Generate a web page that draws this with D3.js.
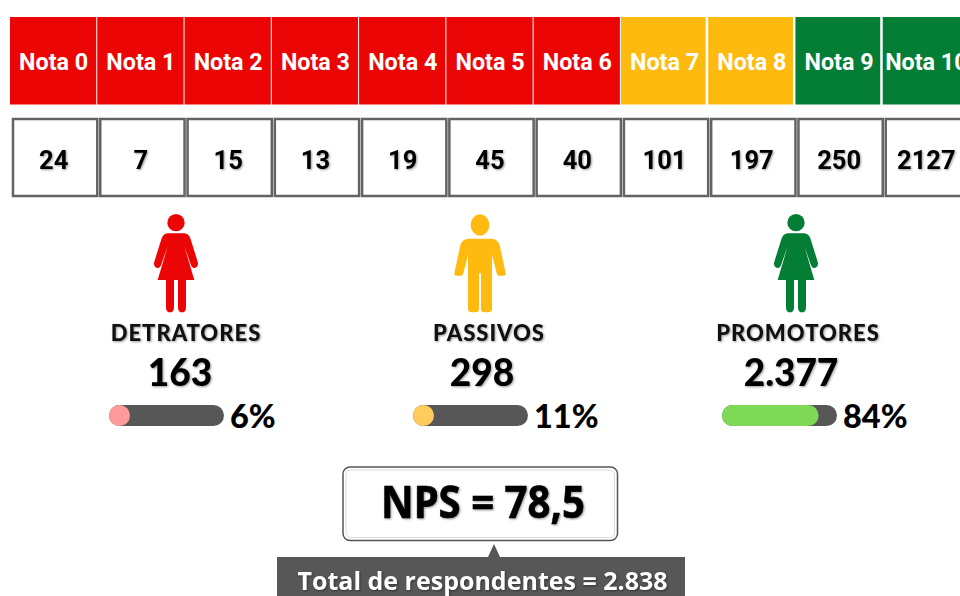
<!DOCTYPE html>
<html>
<head>
<meta charset="utf-8">
<script src="https://cdn.jsdelivr.net/npm/d3@7"></script>
<style>
  html, body { margin: 0; padding: 0; background: #fff; overflow: hidden; }
  svg { display: block; }
  .soft { filter: drop-shadow(1px 1px 1px rgba(0,0,0,.4)); }
</style>
</head>
<body>
<svg id="chart" width="960" height="596"></svg>
<script>
// data
const notas = ["Nota 0", "Nota 1", "Nota 2", "Nota 3", "Nota 4", "Nota 5", "Nota 6", "Nota 7", "Nota 8", "Nota 9", "Nota 10"];
const respostas = [24, 7, 15, 13, 19, 45, 40, 101, 197, 250, 2127];
const notaGrupo = ["d", "d", "d", "d", "d", "d", "d", "p", "p", "g", "g"];

const grupos = ["d", "p", "g"];
const grupoNomes = ["DETRATORES", "PASSIVOS", "PROMOTORES"];
const grupoTotais = ["163", "298", "2.377"];
const grupoPct = [6, 11, 84];
const npsLabel = "NPS = 78,5";
const totalLabel = "Total de respondentes = 2.838";

const cor = d3.scaleOrdinal().domain(grupos).range(["#eb0505", "#ffba10", "#047d35"]);
const corBarra = d3.scaleOrdinal().domain(grupos).range(["#ff9a9a", "#ffcb5c", "#7ed957"]);
const bonecos = ["mulher", "homem", "mulher"];

const cinza = "#575757";
const svg = d3.select("#chart");

// top row
const x = d3.scaleBand().domain(notas).range([10, 970]);
const topo = svg.append("g");
topo.selectAll("rect").data(notas).join("rect")
    .attr("x", d => x(d))
    .attr("y", 17)
    .attr("width", (d, i) => x.bandwidth() - (notaGrupo[i] === "d" ? 1 : 2.5))
    .attr("height", 87.5)
    .attr("fill", (d, i) => cor(notaGrupo[i]));
topo.selectAll("text").data(notas).join("text")
    .attr("x", d => x(d) + x.bandwidth() / 2)
    .attr("y", 70)
    .attr("text-anchor", "middle")
    .attr("font-family", "Roboto")
    .attr("font-weight", 700)
    .attr("font-size", 23.3)
    .attr("fill", "#fff")
    .text(d => d);

// values row
const linha = svg.append("g");
linha.selectAll("rect").data(notas).join("rect")
    .attr("x", d => x(d) + 3)
    .attr("y", 119)
    .attr("width", x.bandwidth() - 3)
    .attr("height", 77)
    .attr("fill", "#fff")
    .attr("stroke", "#636363")
    .attr("stroke-width", 2.5);
linha.selectAll("text").data(respostas).join("text")
    .attr("class", "soft")
    .attr("x", (d, i) => x(notas[i]) + x.bandwidth() / 2)
    .attr("y", 168.5)
    .attr("text-anchor", "middle")
    .attr("font-family", "Roboto")
    .attr("font-weight", 700)
    .attr("font-size", 25.5)
    .attr("fill", "#000")
    .text(d => d);

// person icons, local units are 3x px
const mulher = "M-25,85L25,85Q38,87 43,100L65,170Q69,184 57,189Q48,191 44,178L25,124L55,225L30,225L30,308Q29,322 18,322Q7,322 6,308L6,225L-6,225L-6,308Q-7,322 -18,322Q-29,322 -30,308L-30,225L-55,225L-25,124L-44,178Q-48,191 -57,189Q-69,184 -65,170L-43,100Q-38,87 -25,85Z";
const homem = "M-36,101L36,101Q56,103 60,125L77,205Q78,212 70,212L56,212Q52,212 50,205L36,150L36,312Q35,322 24,322L12,322Q4,322 3,312L3,205L-3,205L-3,312Q-4,322 -12,322L-24,322Q-35,322 -36,312L-36,150L-50,205Q-52,212 -56,212L-70,212Q-78,212 -77,205L-60,125Q-56,103 -36,101Z";

const iconeX = d3.scaleOrdinal().domain(grupos).range([176, 480, 796]);
const nomeX = d3.scaleOrdinal().domain(grupos).range([186, 489, 798]);
const totalX = d3.scaleOrdinal().domain(grupos).range([180, 482, 791]);
const barraX = d3.scaleOrdinal().domain(grupos).range([109, 413, 722]);

const icones = svg.append("g").selectAll("g").data(grupos).join("g")
    .attr("transform", d => `translate(${iconeX(d)},205) scale(${1 / 3})`)
    .attr("fill", d => cor(d));
icones.append("path").attr("d", (d, i) => bonecos[i] === "mulher" ? mulher : homem);
icones.append("ellipse")
    .attr("cx", 0)
    .attr("cy", (d, i) => bonecos[i] === "mulher" ? 53 : 60)
    .attr("rx", (d, i) => bonecos[i] === "mulher" ? 26 : 28)
    .attr("ry", (d, i) => bonecos[i] === "mulher" ? 26 : 32);

// group names and totals
svg.append("g").selectAll("text").data(grupoNomes).join("text")
    .attr("class", "soft")
    .attr("x", (d, i) => nomeX(grupos[i]))
    .attr("y", 341)
    .attr("text-anchor", "middle")
    .attr("font-family", "Lato")
    .attr("font-weight", 900)
    .attr("font-size", 22)
    .attr("letter-spacing", 1)
    .attr("fill", "#111")
    .text(d => d);

svg.append("g").selectAll("text").data(grupoTotais).join("text")
    .attr("class", "soft")
    .attr("x", (d, i) => totalX(grupos[i]))
    .attr("y", 386)
    .attr("text-anchor", "middle")
    .attr("font-family", "Lato")
    .attr("font-weight", 900)
    .attr("font-size", 37)
    .attr("fill", "#000")
    .text(d => d);

// progress bars
const barraH = 21;
const pct = d3.scaleLinear().domain([0, 100]).range([0, 115]);
const barras = svg.append("g").selectAll("g").data(grupoPct).join("g")
    .attr("transform", (d, i) => `translate(${barraX(grupos[i])},405)`);
barras.append("rect")
    .attr("width", pct(100))
    .attr("height", barraH)
    .attr("rx", barraH / 2)
    .attr("fill", cinza);
barras.append("rect")
    .attr("width", d => Math.max(pct(d), barraH))
    .attr("height", barraH)
    .attr("rx", barraH / 2)
    .attr("fill", (d, i) => corBarra(grupos[i]));
barras.append("text")
    .attr("x", pct(100) + 6)
    .attr("y", 23)
    .attr("font-family", "Lato")
    .attr("font-weight", 900)
    .attr("font-size", 32.5)
    .attr("fill", "#000")
    .text(d => d + "%");

// NPS box
svg.append("rect")
    .attr("x", 343).attr("y", 467).attr("width", 274.5).attr("height", 73.5).attr("rx", 7)
    .attr("fill", "#fff").attr("stroke", "#555").attr("stroke-width", 1.5);
svg.append("rect")
    .attr("x", 346).attr("y", 470).attr("width", 268.5).attr("height", 67.5).attr("rx", 5)
    .attr("fill", "#fff").attr("stroke", "#d9d9d9").attr("stroke-width", 1);
svg.append("text")
    .attr("class", "soft")
    .attr("x", 483).attr("y", 518)
    .attr("text-anchor", "middle")
    .attr("font-family", "Noto Sans")
    .attr("font-weight", 700)
    .attr("font-size", 44)
    .attr("textLength", 204)
    .attr("lengthAdjust", "spacingAndGlyphs")
    .attr("stroke", "#000")
    .attr("stroke-width", 0.6)
    .attr("fill", "#000")
    .text(npsLabel);

// total callout
svg.append("path")
    .attr("d", d3.line()([[277, 557], [488, 557], [494, 544], [500, 557], [685, 557], [685, 596], [277, 596]]))
    .attr("fill", cinza);
svg.append("text")
    .attr("class", "soft")
    .attr("x", 482.5).attr("y", 590)
    .attr("text-anchor", "middle")
    .attr("font-family", "Open Sans")
    .attr("font-weight", 700)
    .attr("font-size", 25)
    .attr("fill", "#fff")
    .text(totalLabel);
</script>
</body>
</html>
